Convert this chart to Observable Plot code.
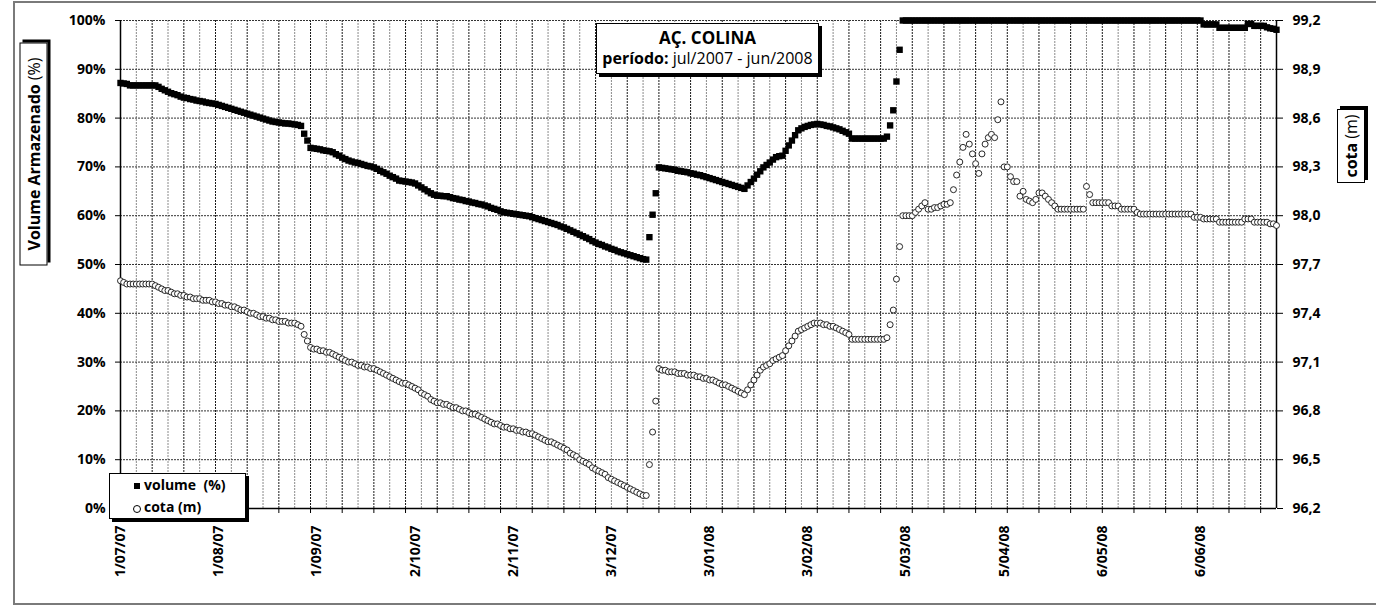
<!DOCTYPE html>
<html>
<head>
<meta charset="utf-8">
<script src="https://cdn.jsdelivr.net/npm/d3@7"></script>
<script src="https://cdn.jsdelivr.net/npm/@observablehq/plot@0.6"></script>
<style>
html,body{margin:0;padding:0;background:#fff;width:1376px;height:605px;overflow:hidden;font-family:"Open Sans",sans-serif;color:#000;}
#frame{position:absolute;left:13px;top:1px;width:1420px;height:604px;border:2px solid #7a7a7a;box-sizing:border-box;}
#chart{position:absolute;left:0;top:0;}
.box{position:absolute;background:#fff;border:1px solid #000;box-shadow:3px 3px 0 #000;box-sizing:border-box;}
#title{left:596px;top:23px;width:223px;height:51px;text-align:center;}
#title .l1{font-weight:700;font-size:17px;line-height:19px;margin-top:4px;}
#title .l2{font-size:16px;line-height:22px;}
.rot{display:flex;align-items:center;justify-content:center;transform:rotate(-90deg);white-space:nowrap;font-size:16px;}
#ytitle{left:-78.5px;top:139.5px;width:223px;height:28px;}
#ytitle2{left:1314px;top:132px;width:74px;height:28px;}
#legend{left:109px;top:473px;width:137px;height:46px;font-weight:700;font-size:14px;}
#legend .row{position:absolute;left:34px;white-space:nowrap;}
#legend .sq{position:absolute;left:24px;width:6px;height:6px;background:#000;}
#legend .ci{position:absolute;left:23px;width:6px;height:6px;border:1px solid #000;border-radius:50%;background:#fff;}
</style>
</head>
<body>
<div id="frame"></div>
<div id="chart"></div>
<div id="title" class="box"><div class="l1">AÇ. COLINA</div><div class="l2"><b>período:</b> jul/2007 - jun/2008</div></div>
<div id="ytitle" class="box rot"><span><b>Volume Armazenado</b> (%)</span></div>
<div id="ytitle2" class="box rot"><span><b>cota</b> (m)</span></div>
<div id="legend" class="box">
  <div class="sq" style="top:9px"></div><div class="row" style="top:1px">volume&nbsp;&nbsp;(%)</div>
  <div class="ci" style="top:31px"></div><div class="row" style="top:23px">cota (m)</div>
</div>
<script>
// Daily values, 1 Jul 2007 (day 0) .. 30 Jun 2008 (day 365)
const volume = [
 87.2,87.1,87.0,86.7,86.7,86.7,86.7,86.7,86.7,86.7,86.7,86.7,
 86.4,86.0,85.7,85.4,85.1,84.9,84.7,84.4,
 84.2,84.1,83.9,83.8,83.6,83.5,83.4,83.2,83.1,83.0,82.9,
 82.7,82.5,82.3,82.1,81.9,81.7,81.5,81.3,81.1,80.9,
 80.7,80.5,80.3,80.1,79.9,79.7,79.5,79.3,
 79.2,79.1,79.0,78.9,78.9,78.8,78.7,78.6,78.4,
 76.8,75.4,73.9,
 73.8,73.7,73.6,73.4,73.3,73.2,73.0,
 72.6,72.3,71.9,71.6,71.3,
 71.1,70.9,70.8,70.6,70.4,70.2,70.1,69.9,
 69.6,69.2,68.9,68.6,68.2,67.9,67.6,67.2,
 67.1,67.0,66.9,66.8,66.6,
 66.2,65.8,65.4,65.0,64.6,64.3,64.1,
 64.1,64.0,64.0,
 63.8,63.6,63.5,63.3,63.2,63.0,62.9,62.7,62.6,62.4,62.3,62.1,
 61.9,61.6,61.4,61.2,60.9,60.7,
 60.6,60.5,60.4,60.3,60.2,60.1,60.0,59.9,59.7,
 59.5,59.3,59.1,58.9,58.7,58.5,58.3,58.1,57.8,57.6,
 57.3,57.0,56.7,56.4,56.1,55.8,55.5,55.2,54.8,54.5,54.2,
 54.0,53.7,53.5,53.2,53.0,52.7,52.5,52.3,
 52.1,51.9,51.7,51.5,51.3,51.1,51.0,
 55.6,60.2,64.6,69.9,
 69.8,69.7,69.6,69.5,69.4,69.2,69.1,69.0,68.9,68.7,68.6,68.4,68.3,68.1,67.9,
 67.7,67.5,67.3,67.1,66.9,66.7,66.5,
 66.3,66.1,65.9,65.7,65.5,
 66.2,66.9,67.6,68.4,69.1,69.9,
 70.4,70.9,71.5,72.0,72.2,72.3,
 73.3,74.4,75.4,76.5,77.5,
 77.9,78.2,78.4,78.6,78.7,78.8,
 78.7,78.6,78.4,78.3,78.1,
 77.9,77.7,77.4,77.1,76.8,
 75.8,75.8,75.8,75.8,75.8,75.8,75.8,75.8,75.8,75.8,75.8,
 76.2,78.5,81.6,87.5,94.0,
 100,100,100,100,100,100,100,100,100,100,
 100,100,100,100,100,100,100,100,100,100,
 100,100,100,100,100,100,100,100,100,100,
 100,100,100,100,100,100,100,100,100,100,
 100,100,100,100,100,100,100,100,100,100,
 100,100,100,100,100,100,100,100,100,100,
 100,100,100,100,100,100,100,100,100,100,
 100,100,100,100,100,100,100,100,100,100,
 100,100,100,100,100,100,100,100,100,100,
 100,100,100,100,100,
 99.2,99.2,99.2,99.2,99.2,
 98.5,98.5,98.5,98.5,98.5,98.5,98.5,98.5,98.5,
 99.3,99.3,
 98.9,98.9,98.9,98.9,
 98.6,98.4,98.3,98.1
];
const cota = [
 97.60,97.59,
 97.58,97.58,97.58,97.58,97.58,97.58,97.58,97.58,97.58,
 97.57,97.56,97.55,97.54,97.54,97.53,97.52,97.52,97.51,
 97.51,97.50,97.50,97.49,97.49,97.49,97.48,97.48,97.48,97.47,97.47,
 97.46,97.46,97.45,97.45,97.44,97.44,97.43,97.42,97.42,97.41,
 97.40,97.40,97.39,97.38,97.38,97.37,97.37,
 97.36,97.36,97.35,97.35,97.35,97.34,97.34,97.34,
 97.33,97.32,
 97.27,97.23,97.19,
 97.18,97.18,97.17,97.17,97.16,97.16,97.15,
 97.14,97.13,97.12,97.11,97.10,97.10,97.09,
 97.08,97.08,97.07,97.07,97.06,97.06,
 97.05,97.04,97.03,97.02,97.01,97.00,96.99,96.98,
 96.97,96.97,96.96,96.95,96.94,
 96.93,96.91,96.90,96.89,96.87,96.86,96.85,
 96.85,96.84,96.84,
 96.83,96.82,96.82,96.81,96.80,96.80,96.79,96.78,96.78,96.77,96.76,96.75,
 96.74,96.73,96.72,96.72,96.71,96.70,
 96.70,96.69,96.69,96.68,96.68,96.67,96.67,96.66,96.66,
 96.65,96.64,96.63,96.62,96.61,96.61,96.60,96.59,96.58,96.57,
 96.56,96.54,96.53,96.52,96.50,96.49,96.48,96.47,96.45,96.44,96.43,
 96.42,96.41,96.39,96.38,96.37,96.36,96.35,96.34,
 96.33,96.32,96.31,96.30,96.29,96.28,96.28,
 96.47,96.67,96.86,97.06,
 97.05,97.05,97.04,97.04,97.04,97.03,97.03,97.03,97.02,97.02,97.02,97.01,97.01,97.00,97.00,
 96.99,96.99,96.98,96.97,96.96,96.96,96.95,
 96.94,96.93,96.92,96.91,96.90,
 96.93,96.96,96.99,97.02,97.05,97.07,
 97.08,97.09,97.11,97.12,97.13,97.14,
 97.17,97.20,97.23,97.26,97.29,
 97.30,97.31,97.32,97.33,97.34,97.34,
 97.34,97.33,97.33,97.32,97.32,
 97.31,97.30,97.29,97.28,97.27,
 97.24,97.24,97.24,97.24,97.24,97.24,97.24,97.24,97.24,97.24,97.24,
 97.25,97.33,97.42,97.61,97.81,
 98.00,98.00,98.00,98.00,
 98.02,98.04,98.06,98.08,
 98.04,98.04,98.05,98.05,98.06,98.07,98.07,98.08,
 98.16,98.25,98.33,98.42,98.50,98.44,98.38,98.32,98.26,98.38,98.44,98.48,98.50,
 98.48,98.59,98.70,98.30,98.30,98.24,98.21,98.21,98.12,98.15,98.10,98.09,98.08,98.10,98.14,98.14,98.12,98.10,98.08,98.06,
 98.04,98.04,98.04,98.04,98.04,98.04,98.04,98.04,98.04,
 98.18,98.13,
 98.08,98.08,98.08,98.08,98.08,98.08,
 98.06,98.06,98.06,
 98.04,98.04,98.04,98.04,98.04,
 98.02,
 98.01,98.01,98.01,98.01,98.01,98.01,98.01,98.01,98.01,98.01,98.01,98.01,98.01,98.01,98.01,98.01,98.01,
 97.99,97.99,97.99,
 97.98,97.98,97.98,97.98,97.98,
 97.96,97.96,97.96,97.96,97.96,97.96,97.96,97.96,
 97.98,97.98,97.98,
 97.96,97.96,97.96,97.96,97.96,
 97.95,97.95,97.94
];
const xTickDays = [0,31,62,93,124,155,186,217,248,279,310,341];
const xTickLabels = ["1/07/07","1/08/07","1/09/07","2/10/07","2/11/07","3/12/07","3/01/08","3/02/08","5/03/08","5/04/08","6/05/08","6/06/08"];
const volumeTicks = [0,10,20,30,40,50,60,70,80,90,100];
const cotaTickLabels = ["96,2","96,5","96,8","97,1","97,4","97,7","98,0","98,3","98,6","98,9","99,2"];
const cotaMin = 96.2, cotaStep = 0.3;

const data = volume.map((v, i) => ({day: i, vol: v, cotaPct: (cota[i] - cotaMin) / cotaStep * 10}));
const lastDay = volume.length - 1;
const minorDays = d3.range(5, lastDay + 1, 10);
const majorDays = d3.range(10, lastDay, 10);
const tickFont = {fontSize: 14, fontWeight: "bold", fontFamily: "'Open Sans', sans-serif"};

const chart = Plot.plot({
  width: 1376, height: 605,
  marginLeft: 120, marginRight: 100, marginTop: 20, marginBottom: 97,
  x: {domain: [0, lastDay], axis: null},
  y: {domain: [0, 100], axis: null},
  style: {background: "transparent", overflow: "visible", color: "#000"},
  marks: [
    Plot.ruleX(minorDays, {stroke: "#8a8a8a", strokeDasharray: "2,1", strokeWidth: 1}),
    Plot.ruleX(majorDays, {stroke: "#1a1a1a", strokeDasharray: "2,1", strokeWidth: 1}),
    Plot.ruleY(volumeTicks.filter(d => d > 0), {stroke: "#333", strokeDasharray: "2,1", strokeWidth: 1}),
    Plot.ruleX([0, lastDay], {stroke: "#000", strokeWidth: 1.5}),
    Plot.ruleY([0], {stroke: "#000", strokeWidth: 1.5}),
    Plot.axisY(volumeTicks, {anchor: "left", tickSize: 5, tickPadding: 10, tickFormat: d => d + "%", label: null, ...tickFont}),
    Plot.axisY(volumeTicks, {anchor: "right", tickSize: 6, tickPadding: 10, tickFormat: d => cotaTickLabels[volumeTicks.indexOf(d)], label: null, ...tickFont}),
    Plot.axisX(d3.range(0, lastDay + 1, 10), {anchor: "bottom", tickSize: 5, tickFormat: () => "", label: null}),
    Plot.axisX(xTickDays, {anchor: "bottom", tickSize: 0, tickPadding: 17, tickRotate: -90, tickFormat: d => xTickLabels[xTickDays.indexOf(d)], label: null, ...tickFont}),
    Plot.dot(data, {x: "day", y: "vol", symbol: "square", r: 3.6, fill: "#000", stroke: "none"}),
    Plot.dot(data, {x: "day", y: "cotaPct", r: 3, fill: "#fff", stroke: "#111", strokeWidth: 0.9})
  ]
});
document.getElementById("chart").appendChild(chart);
</script>
</body>
</html>
